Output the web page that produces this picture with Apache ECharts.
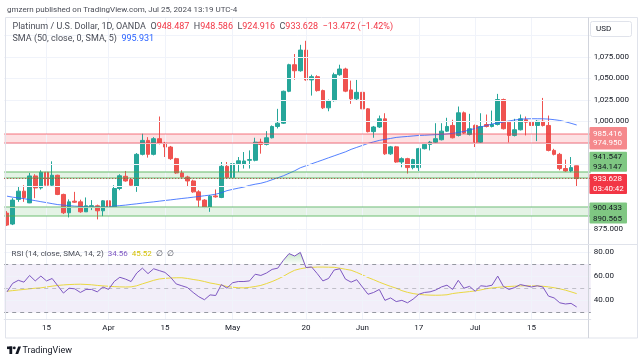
<!DOCTYPE html>
<html><head><meta charset="utf-8">
<script src="https://cdn.jsdelivr.net/npm/echarts@6/dist/echarts.min.js"></script>
<style>html,body{margin:0;padding:0;background:#fff;}#c{width:643px;height:361px;}</style>
</head><body><div id="c"></div>
<script>
// ---------- DATA ----------
const dates = [
'2024-03-06','2024-03-07','2024-03-08','2024-03-11','2024-03-12','2024-03-13','2024-03-14','2024-03-15','2024-03-18','2024-03-19',
'2024-03-20','2024-03-21','2024-03-22','2024-03-25','2024-03-26','2024-03-27','2024-03-28','2024-03-29','2024-04-01','2024-04-02',
'2024-04-03','2024-04-04','2024-04-05','2024-04-08','2024-04-09','2024-04-10','2024-04-11','2024-04-12','2024-04-15','2024-04-16',
'2024-04-17','2024-04-18','2024-04-19','2024-04-22','2024-04-23','2024-04-24','2024-04-25','2024-04-26','2024-04-29','2024-04-30',
'2024-05-01','2024-05-02','2024-05-03','2024-05-06','2024-05-07','2024-05-08','2024-05-09','2024-05-10','2024-05-13','2024-05-14',
'2024-05-15','2024-05-16','2024-05-17','2024-05-20','2024-05-21','2024-05-22','2024-05-23','2024-05-24','2024-05-27','2024-05-28',
'2024-05-29','2024-05-30','2024-05-31','2024-06-03','2024-06-04','2024-06-05','2024-06-06','2024-06-07','2024-06-10','2024-06-11',
'2024-06-12','2024-06-13','2024-06-14','2024-06-17','2024-06-18','2024-06-19','2024-06-20','2024-06-21','2024-06-24','2024-06-25',
'2024-06-26','2024-06-27','2024-06-28','2024-07-01','2024-07-02','2024-07-03','2024-07-04','2024-07-05','2024-07-08','2024-07-09',
'2024-07-10','2024-07-11','2024-07-12','2024-07-15','2024-07-16','2024-07-17','2024-07-18','2024-07-19','2024-07-22','2024-07-23',
'2024-07-24','2024-07-25'];
const padCats = ['2024-07-26','2024-07-29'];

const opens = [893.5,880.8,909.4,919.0,905.4,936.7,922.8,941.0,925.9,937.5,
915.2,893.9,907.4,906.6,895.0,901.0,902.0,896.2,907.8,900.8,
922.1,936.3,932.5,924.8,961.8,978.0,961.8,980.0,974.9,970.3,
956.8,940.2,935.5,930.9,918.2,908.6,900.1,913.5,911.7,947.9,
934.8,951.0,950.2,954.9,954.9,976.0,973.4,981.1,994.2,998.0,
1035.1,1066.0,1059.0,1083.0,1048.3,1052.1,1035.9,1015.9,1024.3,1054.4,
1061.0,1036.7,1026.3,1033.9,1014.7,988.2,993.6,1003.1,962.4,970.5,
952.9,956.8,946.4,946.4,968.4,973.4,976.0,978.8,988.8,995.4,
983.8,1010.1,985.0,995.4,976.0,996.5,994.2,996.5,1025.5,999.2,
983.8,990.4,1002.0,999.2,995.4,1000.3,995.4,966.4,961.8,945.3,
942.5,948.487];
const highs = [895.8,910.9,924.8,925.9,940.2,938.7,943.3,943.3,953.7,938.1,
916.1,909.4,918.2,909.1,911.7,908.6,903.4,908.6,914.4,925.9,
938.7,942.5,934.0,963.3,985.8,981.8,981.8,1005.8,976.3,971.6,
957.8,943.3,936.9,932.3,920.1,909.7,914.4,921.0,952.9,952.9,
955.7,958.7,964.5,966.4,981.1,980.0,988.8,995.4,1014.7,1035.9,
1067.1,1078.4,1089.1,1093.8,1054.4,1053.8,1037.0,1025.5,1056.7,1066.0,
1062.5,1047.5,1048.3,1041.7,1015.6,994.8,1006.9,1009.6,971.6,971.6,
958.3,957.8,956.6,969.3,974.5,977.4,998.0,998.0,1004.3,1002.0,
1017.4,1011.6,1008.9,996.5,1009.6,1008.1,1012.7,1032.1,1026.6,1000.6,
1003.1,1008.1,1005.8,1009.6,1001.7,1027.4,1006.9,968.2,963.5,955.7,
958.7,948.586];
const lows = [878.5,879.6,906.6,906.6,905.1,910.9,920.9,924.8,924.0,914.4,
892.4,888.5,905.4,893.9,895.4,897.0,886.2,890.0,899.9,899.9,
920.1,930.0,924.2,918.2,960.6,958.0,960.6,973.4,958.7,955.4,
939.2,934.6,924.8,917.2,900.1,899.3,895.0,911.5,910.9,934.0,
933.4,941.3,945.3,945.3,953.7,962.6,972.2,980.3,991.9,997.1,
1034.1,1048.6,1057.9,1047.5,1030.1,1034.7,1014.5,1011.9,1023.1,1053.2,
1034.1,1020.5,1024.9,1013.9,987.3,981.1,992.5,961.2,961.2,952.0,
946.8,939.5,944.4,942.5,967.6,966.4,975.1,978.0,987.8,980.3,
982.6,985.5,983.8,970.3,975.1,993.1,993.1,995.4,990.7,975.7,
982.6,989.6,983.8,994.2,977.2,994.2,965.3,960.6,943.3,941.5,
941.0,924.916];
const closes = [879.6,908.6,919.0,911.7,936.7,922.8,941.0,925.9,937.5,915.2,
893.9,906.6,906.2,895.0,902.0,902.2,896.2,907.8,900.8,922.1,
936.9,930.9,925.9,961.8,978.0,961.8,980.0,974.9,970.3,956.8,
940.2,935.5,930.9,918.2,908.6,900.1,913.2,912.4,947.9,934.8,
951.0,954.3,954.1,955.7,976.0,973.4,981.1,994.2,998.0,1035.1,
1066.0,1059.0,1083.0,1048.3,1052.1,1035.9,1015.9,1024.3,1054.4,1061.0,
1035.3,1026.3,1033.9,1014.7,988.2,993.6,1003.1,962.4,970.5,952.9,
956.8,946.4,955.7,968.4,973.4,976.0,980.0,988.8,994.2,981.1,
1010.1,986.5,991.6,976.0,994.2,994.2,996.5,1025.5,991.6,983.8,
990.4,1003.1,999.2,995.4,1000.3,995.4,966.4,961.8,945.3,942.5,
946.4,933.628];
const sma50 = [913.2,912.0,911.2,910.3,909.1,908.0,906.8,905.7,904.5,903.4,
902.8,902.2,901.6,901.3,900.9,900.7,900.5,900.5,900.9,901.6,
902.2,902.8,903.6,904.3,905.1,905.9,906.6,907.4,908.2,908.9,
909.7,910.5,911.2,912.0,912.8,913.7,914.4,915.5,917.2,919.6,
921.1,922.5,923.8,925.7,927.1,928.2,930.0,932.3,934.6,936.9,
939.8,942.7,946.2,948.5,950.8,953.1,955.4,957.8,960.1,962.4,
964.7,967.6,969.9,972.2,974.5,976.3,978.0,979.2,980.3,981.5,
982.1,982.6,983.2,983.8,984.0,984.4,984.7,985.0,985.5,986.1,
987.3,988.4,990.2,991.9,993.6,995.4,997.1,998.3,999.4,1000.6,
1001.7,1002.5,1003.1,1003.2,1003.2,1003.1,1002.8,1002.1,1001.2,999.7,
997.9,995.931];
const rsi = [47.0,54.0,56.5,55.0,60.5,56.0,60.0,56.0,58.0,52.0,
46.0,50.0,49.5,46.5,49.0,49.0,47.0,51.0,49.0,55.5,
59.0,57.5,55.5,62.5,66.5,62.0,66.0,64.5,63.0,59.0,
53.5,52.0,50.5,46.5,43.0,40.5,44.5,44.0,53.0,50.0,
54.5,55.5,55.5,56.0,61.5,60.5,62.5,65.5,66.5,73.0,
78.5,76.5,79.5,67.0,67.5,62.0,56.0,58.0,65.0,66.0,
57.5,55.0,57.0,51.0,45.0,46.5,49.0,40.0,42.0,39.0,
40.0,38.0,41.0,45.0,46.5,47.0,48.5,51.0,52.5,49.0,
56.5,50.0,51.5,47.5,52.0,51.5,52.5,60.0,51.5,49.0,
50.5,53.0,52.0,51.0,52.0,51.0,43.5,42.0,38.0,37.0,
37.5,34.56];
const rsiMa = [47.5,48.0,48.5,49.0,49.5,50.0,50.3,51.0,51.7,52.3,
52.7,53.0,53.2,53.3,53.1,52.8,52.3,51.9,51.6,51.3,
51.1,51.0,51.1,52.0,53.6,55.0,56.5,57.6,58.1,58.4,
58.6,58.6,58.0,57.2,56.5,55.5,54.3,53.5,52.5,51.4,
50.8,50.4,50.3,50.7,51.4,52.3,53.8,55.5,57.5,59.8,
62.5,64.8,66.0,66.8,67.2,67.4,67.4,67.3,67.2,66.5,
65.6,64.8,63.0,61.0,58.8,57.0,55.0,53.2,51.5,50.0,
48.0,46.6,45.6,44.9,44.5,44.3,44.2,44.3,44.6,45.6,
46.2,46.7,47.2,47.8,48.6,49.6,50.2,50.7,51.1,51.4,
51.7,51.9,52.0,51.9,51.9,51.6,51.1,50.4,49.5,48.4,
47.0,45.52];
const xTickDates = ['2024-03-15','2024-04-01','2024-04-15','2024-05-01','2024-05-20','2024-06-03','2024-06-17','2024-07-01','2024-07-15'];
const xTickLabels = ['15','Apr','15','May','20','Jun','17','Jul','15'];
const priceLabelValues = [875, 1000, 1025, 1050, 1075];
const priceGridValues = [875, 900, 925, 950, 975, 1000, 1025, 1050, 1075, 1100];
const rsiLabelValues = [40, 60, 80];
const rsiLevels = [30, 50, 70];
const redZone = [974.950, 985.416];
const greenZoneHigh = [934.147, 941.547];
const greenZoneLow = [890.565, 900.433];
const lastClose = 933.628;
const countdown = '03:40:42';

// ---------- CHART ----------
const FONT = 'Roboto, "Liberation Sans", sans-serif';
const TXT = '#131722';
const chart = echarts.init(document.getElementById('c'), null, {renderer: 'canvas', width: 643, height: 361});
const cats = dates.concat(padCats);
const candleData = dates.map((d, i) => [opens[i], closes[i], lows[i], highs[i]]);
const obData = rsi.map(v => Math.max(v, 70));
const fmtPrice = v => Number(v).toLocaleString('en-US', {minimumFractionDigits: 3, maximumFractionDigits: 3});

const GL = 4.2, GW = 586.6;
const vGrid = xTickDates.map(d => ({xAxis: d}));

const option = {
  animation: false,
  backgroundColor: '#ffffff',
  textStyle: {fontFamily: FONT},
  grid: [
    {left: GL, top: 18, width: GW, height: 226},
    {left: GL, top: 244, width: GW, height: 75.3}
  ],
  xAxis: [
    {type: 'category', gridIndex: 0, data: cats, boundaryGap: true,
     axisLine: {show: false}, axisTick: {show: false}, axisLabel: {show: false}, splitLine: {show: false}},
    {type: 'category', gridIndex: 1, data: cats, boundaryGap: true,
     axisLine: {show: true, lineStyle: {color: '#e0e3eb'}}, axisTick: {show: false}, splitLine: {show: false},
     axisLabel: {show: true, color: TXT, fontSize: 8, fontFamily: FONT, margin: 5,
       interval: (i, v) => xTickDates.indexOf(v) >= 0,
       formatter: v => { const k = xTickDates.indexOf(v); return k >= 0 ? xTickLabels[k] : ''; }}}
  ],
  yAxis: [
    {type: 'value', gridIndex: 0, position: 'right', min: 857.6, max: 1120.3,
     axisLine: {show: false}, axisTick: {show: false}, splitLine: {show: false},
     axisLabel: {show: true, customValues: priceLabelValues, color: TXT, fontSize: 8, fontFamily: FONT, margin: 3,
       formatter: v => fmtPrice(v)}},
    {type: 'value', gridIndex: 1, position: 'right', min: 24.4, max: 86.4,
     axisLine: {show: false}, axisTick: {show: false}, splitLine: {show: false},
     axisLabel: {show: true, customValues: rsiLabelValues, color: TXT, fontSize: 8, fontFamily: FONT, margin: 3,
       formatter: v => Number(v).toFixed(2)}}
  ],
  series: [
    {type: 'line', xAxisIndex: 0, yAxisIndex: 0, data: [], silent: true, z: 1,
     markLine: {silent: true, symbol: 'none', label: {show: false},
       lineStyle: {color: '#f0f3fa', width: 1, type: 'solid'},
       data: priceGridValues.map(v => ({yAxis: v})).concat(vGrid)}},
    {type: 'line', xAxisIndex: 1, yAxisIndex: 1, data: [], silent: true, z: 1,
     markArea: {silent: true, itemStyle: {color: 'rgba(126,87,194,0.10)'}, data: [[{yAxis: rsiLevels[0]}, {yAxis: rsiLevels[2]}]]},
     markLine: {silent: true, symbol: 'none', label: {show: false},
       lineStyle: {color: '#f0f3fa', width: 1, type: 'solid'},
       data: rsiLabelValues.map(v => ({yAxis: v})).concat(vGrid).concat([
         {yAxis: rsiLevels[2], lineStyle: {color: '#9598a1', type: [4, 4], width: 1}},
         {yAxis: rsiLevels[1], lineStyle: {color: 'rgba(149,152,161,0.55)', type: [4, 4], width: 1}},
         {yAxis: rsiLevels[0], lineStyle: {color: '#9598a1', type: [4, 4], width: 1}}
       ])}},
    {type: 'candlestick', name: 'XPTUSD', xAxisIndex: 0, yAxisIndex: 0, data: candleData, z: 3,
     barWidth: 4.2,
     itemStyle: {color: '#26a69a', color0: '#ef5350', borderColor: '#26a69a', borderColor0: '#ef5350', borderWidth: 1}},
    {type: 'line', name: 'SMA', xAxisIndex: 0, yAxisIndex: 0, data: sma50, symbol: 'none', z: 4,
     lineStyle: {color: '#2962ff', width: 1, opacity: 0.8}},
    {type: 'line', xAxisIndex: 0, yAxisIndex: 0, data: [], silent: true, z: 5,
     markArea: {silent: true, data: [
       [{yAxis: redZone[0], itemStyle: {color: 'rgba(242,54,69,0.15)'}}, {yAxis: redZone[1]}],
       [{yAxis: greenZoneHigh[0], itemStyle: {color: 'rgba(76,175,80,0.15)'}}, {yAxis: greenZoneHigh[1]}],
       [{yAxis: greenZoneLow[0], itemStyle: {color: 'rgba(76,175,80,0.15)'}}, {yAxis: greenZoneLow[1]}]
     ]},
     markLine: {silent: true, symbol: 'none', label: {show: false}, data: [
       {yAxis: redZone[0], lineStyle: {color: 'rgba(242,54,69,0.45)', width: 1.5, type: 'solid'}},
       {yAxis: redZone[1], lineStyle: {color: 'rgba(242,54,69,0.45)', width: 1.5, type: 'solid'}},
       {yAxis: greenZoneHigh[0], lineStyle: {color: 'rgba(76,175,80,0.55)', width: 1.5, type: 'solid'}},
       {yAxis: greenZoneHigh[1], lineStyle: {color: 'rgba(76,175,80,0.55)', width: 1.5, type: 'solid'}},
       {yAxis: greenZoneLow[0], lineStyle: {color: 'rgba(76,175,80,0.55)', width: 1.5, type: 'solid'}},
       {yAxis: greenZoneLow[1], lineStyle: {color: 'rgba(76,175,80,0.55)', width: 1.5, type: 'solid'}},
       {yAxis: lastClose, lineStyle: {color: '#b0413e', width: 1, type: [1, 2]}}
     ]}},
    {type: 'line', xAxisIndex: 1, yAxisIndex: 1, data: obData, symbol: 'none', z: 3, silent: true,
     lineStyle: {width: 0, opacity: 0},
     areaStyle: {origin: 70, color: new echarts.graphic.LinearGradient(0, 0, 0, 1, [
       {offset: 0, color: 'rgba(76,175,80,0.45)'}, {offset: 1, color: 'rgba(76,175,80,0.05)'}])}},
    {type: 'line', name: 'RSI MA', xAxisIndex: 1, yAxisIndex: 1, data: rsiMa, symbol: 'none', z: 4,
     lineStyle: {color: '#ead840', width: 1}},
    {type: 'line', name: 'RSI', xAxisIndex: 1, yAxisIndex: 1, data: rsi, symbol: 'none', z: 5,
     lineStyle: {color: '#7e57c2', width: 1}}
  ]
};
chart.setOption(option);

// ---------- ANNOTATIONS ----------
const py = v => chart.convertToPixel({yAxisIndex: 0}, v);
const BX = 589.5, BW = 37.5, TX = 593;
const F8 = '8px ' + FONT, F9 = '9px ' + FONT;
function box(top, h, fill) { return {type: 'rect', silent: true, z: 50, shape: {x: BX, y: top, width: BW, height: h, r: 1}, style: {fill: fill}}; }
function label(y, text, fill) { return {type: 'text', silent: true, z: 51, x: TX, y: y, style: {text: text, fill: fill, font: F8, verticalAlign: 'middle'}}; }

const yR1 = py(redZone[1]), yR0 = py(redZone[0]);
const yCur = py(lastClose);
const curTop = yCur - 4.6;
const g1Bottom = curTop - 2.3, g1Top = g1Bottom - 20;
const yGL = py(greenZoneLow[1]);
const g2Top = yGL - 4.6;

const graphics = [
  {type: 'rect', silent: true, z: 40, shape: {x: 5.5, y: 17.5, width: 632, height: 320.5}, style: {fill: 'none', stroke: '#e0e3eb', lineWidth: 1}},
  {type: 'line', silent: true, z: 40, shape: {x1: 588.5, y1: 17.5, x2: 588.5, y2: 338}, style: {stroke: '#d1d4dc', lineWidth: 1}},
  {type: 'line', silent: true, z: 40, shape: {x1: 5.5, y1: 244.5, x2: 637.5, y2: 244.5}, style: {stroke: '#e0e3eb', lineWidth: 1}},
  {type: 'line', silent: true, z: 40, shape: {x1: 5.5, y1: 319.5, x2: 588.5, y2: 319.5}, style: {stroke: '#e0e3eb', lineWidth: 1}},
  {type: 'text', silent: true, z: 60, x: 7, y: 9.5, style: {text: 'gmzern published on TradingView.com, Jul 25, 2024 13:19 UTC-4', fill: '#4a4d57', font: F8, verticalAlign: 'middle'}},
  {type: 'text', silent: true, z: 60, x: 12.5, y: 26.5, style: {
    text: '{n|Platinum / U.S. Dollar, 1D, OANDA}  {n|O}{v|948.487}  {n|H}{v|948.586}  {n|L}{v|924.916}  {n|C}{v|933.628}  {v|\u221213.472 (\u22121.42%)}',
    font: F9, verticalAlign: 'middle',
    rich: {n: {fill: '#4a4d57', font: F9}, v: {fill: '#f23645', font: F9}}}},
  {type: 'text', silent: true, z: 60, x: 12.5, y: 39, style: {
    text: '{n|SMA (50, close, 0, SMA, 5)}  {b|995.931}',
    font: F9, verticalAlign: 'middle',
    rich: {n: {fill: '#4a4d57', font: F9}, b: {fill: '#2962ff', font: F9}}}},
  {type: 'text', silent: true, z: 60, x: 11.5, y: 254, style: {
    text: '{n|RSI (14, close, SMA, 14, 2)}  {p|34.56}  {y|45.52}  {n|\u2205  \u2205}',
    font: F8, verticalAlign: 'middle',
    rich: {n: {fill: '#4a4d57', font: F8}, p: {fill: '#7e57c2', font: F8}, y: {fill: '#d4bf00', font: F8}}}},
  {type: 'rect', silent: true, z: 60, shape: {x: 590.5, y: 21.5, width: 41, height: 15, r: 2}, style: {fill: '#fff', stroke: '#e0e3eb', lineWidth: 1}},
  {type: 'text', silent: true, z: 61, x: 596, y: 29, style: {text: 'USD', fill: TXT, font: F8, verticalAlign: 'middle'}},
  box(yR1 - 7, (yR0 - yR1) + 13.5, '#f5898c'),
  label(yR1, fmtPrice(redZone[1]), '#ffffff'),
  label(yR0, fmtPrice(redZone[0]), '#ffffff'),
  box(g1Top, 20, '#7fc782'),
  label(g1Top + 5, fmtPrice(greenZoneHigh[1]), TXT),
  label(g1Top + 15, fmtPrice(greenZoneHigh[0]), TXT),
  box(curTop, 20, '#f23645'),
  label(curTop + 5.5, fmtPrice(lastClose), '#ffffff'),
  label(curTop + 15, countdown, '#ffffff'),
  box(g2Top, 21, '#7fc782'),
  label(g2Top + 5.5, fmtPrice(greenZoneLow[1]), TXT),
  label(g2Top + 16.5, fmtPrice(greenZoneLow[0]), TXT),
  {type: 'rect', silent: true, z: 60, shape: {x: 7, y: 346.5, width: 5.2, height: 2.6}, style: {fill: TXT}},
  {type: 'rect', silent: true, z: 60, shape: {x: 9.4, y: 346.5, width: 2.8, height: 7.5}, style: {fill: TXT}},
  {type: 'circle', silent: true, z: 60, shape: {cx: 14.3, cy: 347.9, r: 1.4}, style: {fill: TXT}},
  {type: 'polygon', silent: true, z: 60, shape: {points: [[15.4, 354], [18.2, 346.5], [21, 346.5], [18.2, 354]]}, style: {fill: TXT}},
  {type: 'text', silent: true, z: 60, x: 22.5, y: 350.5, style: {text: 'TradingView', fill: TXT, font: F9, verticalAlign: 'middle'}}
];
chart.setOption({graphic: graphics});
</script>
</body></html>
